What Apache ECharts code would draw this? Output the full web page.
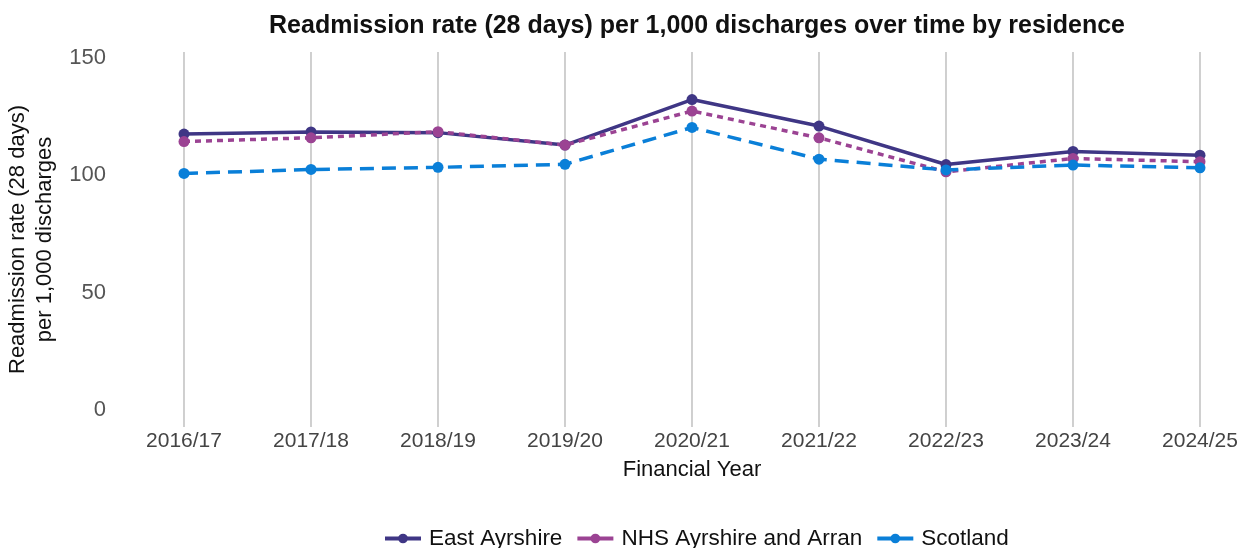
<!DOCTYPE html>
<html>
<head>
<meta charset="utf-8">
<script src="https://cdn.jsdelivr.net/npm/echarts@6/dist/echarts.min.js"></script>
<style>html,body{margin:0;padding:0;background:#fff;}#c{width:1250px;height:548px;}</style>
</head>
<body>
<div id="c"></div>
<script>
const categories = ['2016/17','2017/18','2018/19','2019/20','2020/21','2021/22','2022/23','2023/24','2024/25'];
const eastAyrshire = [117.6, 118.5, 118.2, 112.9, 132.3, 121.0, 104.6, 110.2, 108.6];
const nhsAyrshireArran = [114.4, 116.0, 118.6, 112.9, 127.4, 116.0, 101.5, 107.2, 105.8];
const scotland = [100.8, 102.5, 103.4, 104.7, 120.4, 106.9, 102.3, 104.4, 103.2];
const yTickValues = [0, 50, 100, 150];

const FONT = '"Liberation Sans", Arial, sans-serif';
const chart = echarts.init(document.getElementById('c'));
const mk = (name, data, color, type) => ({
  name, type: 'line', data, color,
  symbol: 'circle', symbolSize: 11,
  lineStyle: { width: 3.5, type, color },
  itemStyle: { color }
});
chart.setOption({
  animation: false,
  textStyle: { fontFamily: FONT },
  title: {
    text: 'Readmission rate (28 days) per 1,000 discharges over time by residence',
    left: 692, top: 9, textAlign: 'center',
    textStyle: { fontFamily: FONT, fontSize: 25, fontWeight: 'bold', color: '#111' }
  },
  legend: {
    top: 522, left: 378,
    itemWidth: 36, itemHeight: 12, itemGap: 13,
    lineStyle: { type: 'solid', width: 4 },
    textStyle: { fontFamily: FONT, fontSize: 22.5, color: '#111', padding: [0, 0, 0, 3] },
    data: ['East Ayrshire', 'NHS Ayrshire and Arran', 'Scotland']
  },
  grid: { left: 184, right: 50, top: 52, bottom: 121, containLabel: false, outerBoundsMode: 'none' },
  xAxis: {
    type: 'category', data: categories, boundaryGap: false,
    name: 'Financial Year', nameLocation: 'middle', nameGap: 32,
    nameTextStyle: { fontFamily: FONT, fontSize: 22, color: '#111' },
    axisLine: { show: false }, axisTick: { show: false },
    axisLabel: { fontFamily: FONT, fontSize: 21, color: '#444', margin: 4 },
    splitLine: { show: true, lineStyle: { color: '#c4c4c4', width: 1.6 } }
  },
  yAxis: {
    type: 'value', min: -7.24, max: 152.56,
    name: 'Readmission rate (28 days)\nper 1,000 discharges', nameLocation: 'middle', nameRotate: 90, nameGap: 122,
    nameTextStyle: { fontFamily: FONT, fontSize: 22, color: '#111', lineHeight: 27 },
    axisLine: { show: false }, axisTick: { show: false },
    axisLabel: { customValues: yTickValues, fontFamily: FONT, fontSize: 22, color: '#555', margin: 78 },
    splitLine: { show: false }
  },
  series: [
    mk('East Ayrshire', eastAyrshire, '#3f3685', 'solid'),
    mk('NHS Ayrshire and Arran', nhsAyrshireArran, '#9b4393', [6, 5]),
    mk('Scotland', scotland, '#0a7fd8', [14, 8])
  ]
});
</script>
</body>
</html>
